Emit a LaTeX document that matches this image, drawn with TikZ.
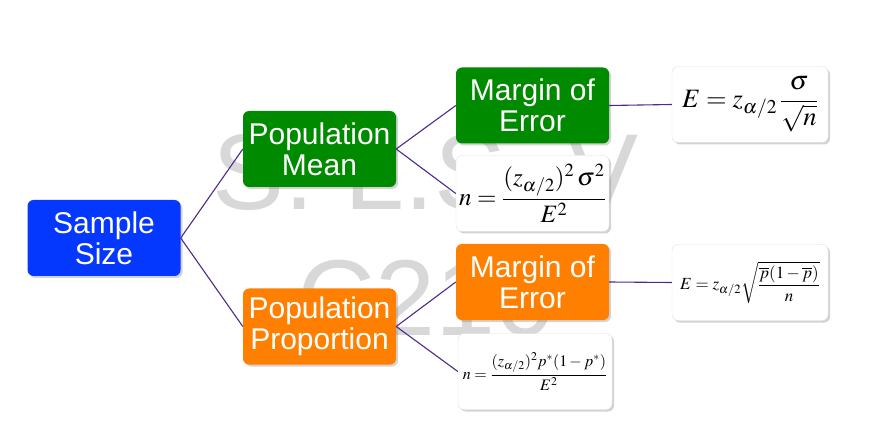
\documentclass[tikz,border=0pt]{standalone}
\usepackage{amsmath}
\usepackage{mathptmx}
\usepackage{fontspec}
\setmainfont{Liberation Sans}
\usetikzlibrary{shadows}
\definecolor{bluebox}{HTML}{0538FF}
\definecolor{greenbox}{HTML}{008A00}
\definecolor{orangebox}{HTML}{FF7F00}
\definecolor{linkcol}{HTML}{4F2A8A}
\definecolor{wmark}{HTML}{D8D8D8}
\begin{document}
\begin{tikzpicture}[x=1pt,y=-1pt,
  box/.style={rounded corners=6pt, minimum width=153pt, minimum height=76pt,
    align=center, text=white, inner sep=0pt,
    font=\fontsize{30}{31}\selectfont,
    drop shadow={shadow xshift=2pt,shadow yshift=-2pt,opacity=0.35}},
  bluebx/.style={box, fill=bluebox},
  greenbx/.style={box, fill=greenbox},
  orangebx/.style={box, fill=orangebox},
  formbox/.style={box, fill=white, draw=black!12, text=black},
  link/.style={draw=linkcol, line width=1.1pt},
  wmtext/.style={text=wmark, anchor=base west, inner sep=0pt,
    font=\fontsize{108}{108}\selectfont}
]
\path[use as bounding box] (0,0) rectangle (893,435);
% watermark
\node[wmtext] (wm1) at (212,210) {S. L.S. V};
\node[wmtext] (wm2) at (297,335) {C210};
% nodes
\node[bluebx] (ss) at (104,238) {Sample\\Size};
\node[greenbx] (pm) at (319.5,149) {Population\\Mean};
\node[orangebx] (pp) at (319.5,326.5) {Population\\Proportion};
\node[greenbx] (me1) at (532.5,105.5) {Margin of\\Error};
\node[formbox] (f1) at (532.5,193.5) {\fontsize{25}{28}\selectfont$n=\dfrac{(z_{\alpha/2})^2\,\sigma^2}{E^2}$};
\node[orangebx] (me2) at (532.5,282) {Margin of\\Error};
\node[formbox, minimum width=154pt] (f2) at (535,371.5) {\fontsize{16}{19}\selectfont$n=\dfrac{(z_{\alpha/2})^2p^*(1-p^*)}{E^2}$};
\node[formbox, minimum width=156pt] (e1) at (750,104.5) {\fontsize{26.5}{29}\selectfont$E=z_{\alpha/2}\,\dfrac{\sigma}{\sqrt{n}}$};
\node[formbox, minimum width=156pt] (e2) at (750,282.5) {\fontsize{17}{20}\selectfont$E=z_{\alpha/2}\sqrt{\dfrac{\overline{p}(1-\overline{p})}{n}}$};
% connectors
\draw[link] (ss.east) -- (pm.west);
\draw[link] (ss.east) -- (pp.west);
\draw[link] (pm.east) -- (me1.west);
\draw[link] (pm.east) -- (f1.west);
\draw[link] (pp.east) -- (me2.west);
\draw[link] (pp.east) -- (f2.west);
\draw[link] (me1.east) -- (e1.west);
\draw[link] (me2.east) -- (e2.west);
\end{tikzpicture}
\end{document}
